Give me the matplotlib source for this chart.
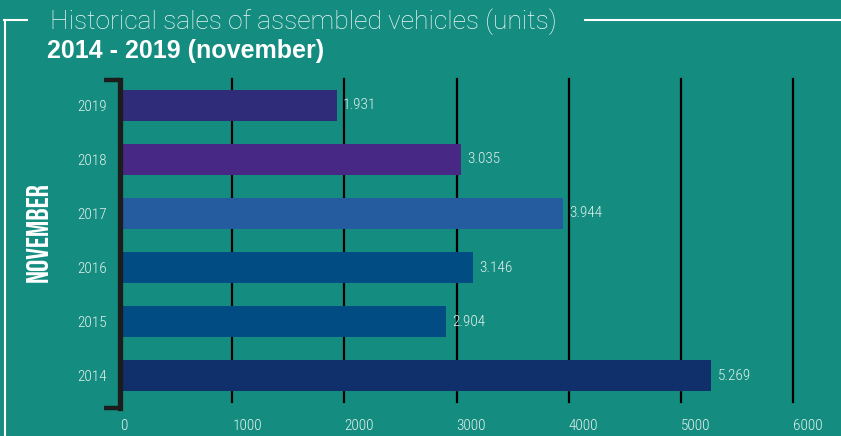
import matplotlib
matplotlib.use("Agg")
import matplotlib.pyplot as plt
from matplotlib.lines import Line2D

# ---- data ----
years = ["2014", "2015", "2016", "2017", "2018", "2019"]
units = [5269, 2904, 3146, 3944, 3035, 1931]
value_labels = ["5.269", "2.904", "3.146", "3.944", "3.035", "1.931"]
bar_colors = ["#10306c", "#014c82", "#014c82", "#255b9f", "#472884", "#2f2d7a"]
x_ticks = [0, 1000, 2000, 3000, 4000, 5000, 6000]
title = "Historical sales of assembled vehicles (units)"
subtitle = "2014 - 2019 (november)"
side_label = "NOVEMBER"

BG = "#148c80"
TXT = "#e4f1ee"
W, H = 841, 436

fig = plt.figure(figsize=(W / 100, H / 100), dpi=100, facecolor=BG)

def fx(px):
    return px / W

def fy(py):
    return (H - py) / H

ax_left, ax_right = 120, 798.8
ax_top, ax_bot = 79, 402
ax = fig.add_axes([fx(ax_left), fy(ax_bot), fx(ax_right) - fx(ax_left), fy(ax_top) - fy(ax_bot)])
ax.set_facecolor("none")
ax.set_xlim(0, 6050)
ax.set_ylim(-0.49, len(years) - 0.51)

# gridlines
for t in x_ticks[1:]:
    ax.axvline(t, color="black", lw=1.6, zorder=1, clip_on=False)

ypos = list(range(len(years)))
ax.barh(ypos, units, height=0.57, color=bar_colors, zorder=2)

narrow = ["Roboto Condensed", "DejaVu Sans"]
for y, v, lab in zip(ypos, units, value_labels):
    ax.annotate(lab, (v, y), xytext=(4.5, 0), textcoords="offset points",
                ha="left", va="center", color=TXT, fontsize=11, family=narrow,
                fontweight="light", zorder=3)

for s in ax.spines.values():
    s.set_visible(False)

ax.set_yticks(ypos)
ax.set_yticklabels(years, family=narrow, fontsize=11, color=TXT, fontweight="light")
ax.set_xticks(x_ticks)
ax.set_xticklabels([str(t) for t in x_ticks], family=narrow, fontsize=11, color=TXT,
                   ha="left", fontweight="light")
ax.tick_params(axis="y", length=0, pad=9.5)
ax.tick_params(axis="x", length=0, pad=12)

# bracket on the left
bk = "#1c1c1c"
fig.add_artist(Line2D([fx(120), fx(120)], [fy(79.5), fy(407.5)], color=bk, lw=3.8, transform=fig.transFigure, solid_capstyle="projecting"))
fig.add_artist(Line2D([fx(104), fx(120)], [fy(79.5), fy(79.5)], color=bk, lw=3.2, transform=fig.transFigure, solid_capstyle="butt"))
fig.add_artist(Line2D([fx(104), fx(120)], [fy(407.5), fy(407.5)], color=bk, lw=3.2, transform=fig.transFigure, solid_capstyle="butt"))

# white frame lines
fw = "white"
fig.add_artist(Line2D([fx(5), fx(5)], [fy(20), fy(437)], color=fw, lw=1.5, transform=fig.transFigure))
fig.add_artist(Line2D([fx(4.3), fx(27)], [fy(20), fy(20)], color=fw, lw=1.5, transform=fig.transFigure))
fig.add_artist(Line2D([fx(585), fx(842)], [fy(20), fy(20)], color=fw, lw=1.5, transform=fig.transFigure))

# titles
fig.text(fx(50), fy(29), title, ha="left", va="baseline", color="#eef7f5",
         fontsize=19, family=["Roboto", "DejaVu Sans"], fontweight="light")
fig.text(fx(47), fy(58), subtitle, ha="left", va="baseline", color="white",
         fontsize=18, family=["Liberation Sans", "DejaVu Sans"], fontweight="bold")

fig.text(fx(37), fy(232), side_label, rotation=90, ha="center", va="center", color="white",
         fontsize=22, family=["Bebas Neue", "DejaVu Sans"])

fig.savefig("out.png", dpi=100, facecolor=BG)
